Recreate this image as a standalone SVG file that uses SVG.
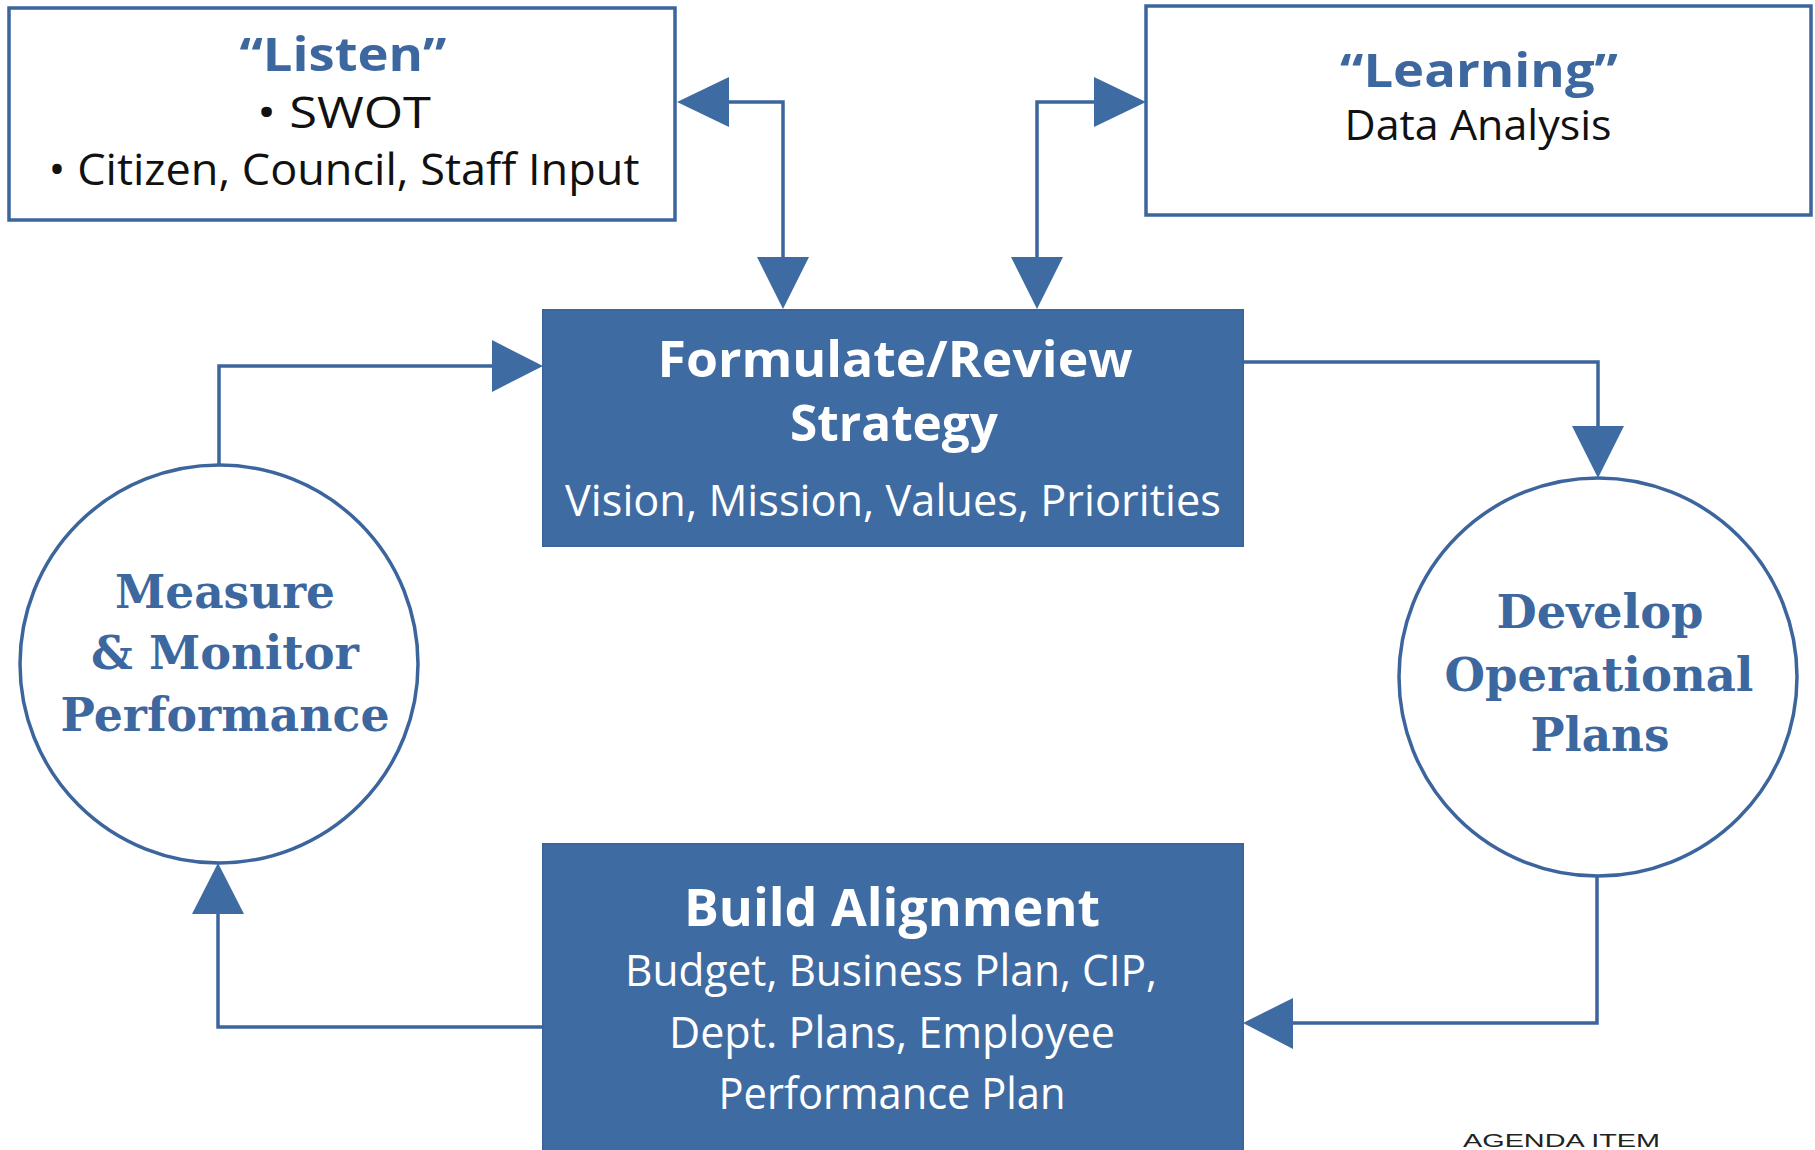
<svg xmlns="http://www.w3.org/2000/svg" width="1815" height="1150" viewBox="0 0 1815 1150">
<style>
.box{fill:#fff;stroke:#3b659c;stroke-width:3.5}
.fbox{fill:#3f6ba3;stroke:#3b659c;stroke-width:2}
.circ{fill:#fff;stroke:#3b659c;stroke-width:3.5}
.ln{fill:none;stroke:#3b659c;stroke-width:3.5}
.ah{fill:#3f6ba3}
.hd{font-family:"Open Sans","Liberation Sans",sans-serif;font-weight:bold;text-anchor:middle}
.bd{font-family:"Open Sans","Liberation Sans",sans-serif;font-weight:normal;text-anchor:middle}
.cz{font-family:"DejaVu Serif","Liberation Serif",serif;font-weight:bold;text-anchor:middle;fill:#3d679f;font-size:46px}
.blue{fill:#3d679f}
.blk{fill:#111}
.wht{fill:#fff}
</style>
<g id="connectors">
<path class="ln" d="M729,102 H783 V258"/>
<polygon class="ah" points="677,102 729,77 729,127"/>
<polygon class="ah" points="783,309 757,257 809,257"/>
<path class="ln" d="M1094,102 H1037 V258"/>
<polygon class="ah" points="1146,102 1094,77 1094,127"/>
<polygon class="ah" points="1037,309 1011,257 1063,257"/>
<path class="ln" d="M1243,362 H1598 V427"/>
<polygon class="ah" points="1598,478 1572,426 1624,426"/>
<path class="ln" d="M1597,876 V1023 H1292"/>
<polygon class="ah" points="1243,1023 1293,998 1293,1049"/>
<path class="ln" d="M543,1027 H218 V913"/>
<polygon class="ah" points="218,863 192,914 244,914"/>
<path class="ln" d="M219,465 V366 H493"/>
<polygon class="ah" points="543,366 492,340 492,392"/>
</g>
<g id="listen">
<rect class="box" x="9" y="8" width="666" height="212"/>
<text class="hd blue" x="343" y="71" font-size="46" textLength="207" lengthAdjust="spacingAndGlyphs">“Listen”</text>
<text class="bd blk" x="344" y="128" font-size="43" textLength="174" lengthAdjust="spacingAndGlyphs">• SWOT</text>
<text class="bd blk" x="344" y="185" font-size="43" textLength="591" lengthAdjust="spacingAndGlyphs">• Citizen, Council, Staff Input</text>
</g>
<g id="learning">
<rect class="box" x="1146" y="6" width="665" height="209"/>
<text class="hd blue" x="1479" y="87" font-size="46" textLength="278" lengthAdjust="spacingAndGlyphs">“Learning”</text>
<text class="bd blk" x="1478" y="140" font-size="42" textLength="267" lengthAdjust="spacingAndGlyphs">Data Analysis</text>
</g>
<g id="formulate">
<rect class="fbox" x="543" y="310" width="700" height="236"/>
<text class="hd wht" x="895" y="377" font-size="50" textLength="475" lengthAdjust="spacingAndGlyphs">Formulate/Review</text>
<text class="hd wht" x="894" y="441" font-size="50" textLength="208" lengthAdjust="spacingAndGlyphs">Strategy</text>
<text class="bd wht" x="893" y="516" font-size="43" textLength="656" lengthAdjust="spacingAndGlyphs">Vision, Mission, Values, Priorities</text>
</g>
<g id="measure">
<circle class="circ" cx="219" cy="664" r="199"/>
<text class="cz" x="225" y="608" textLength="220" lengthAdjust="spacingAndGlyphs">Measure</text>
<text class="cz" x="225" y="669" textLength="268" lengthAdjust="spacingAndGlyphs">&amp; Monitor</text>
<text class="cz" x="225" y="731" textLength="329" lengthAdjust="spacingAndGlyphs">Performance</text>
</g>
<g id="develop">
<circle class="circ" cx="1598" cy="677" r="199"/>
<text class="cz" x="1600" y="628" textLength="207" lengthAdjust="spacingAndGlyphs">Develop</text>
<text class="cz" x="1599" y="691" textLength="309" lengthAdjust="spacingAndGlyphs">Operational</text>
<text class="cz" x="1600" y="751" textLength="139" lengthAdjust="spacingAndGlyphs">Plans</text>
</g>
<g id="build">
<rect class="fbox" x="543" y="844" width="700" height="310"/>
<text class="hd wht" x="892" y="926" font-size="52" textLength="416" lengthAdjust="spacingAndGlyphs">Build Alignment</text>
<text class="bd wht" x="891" y="986" font-size="43" textLength="532" lengthAdjust="spacingAndGlyphs">Budget, Business Plan, CIP,</text>
<text class="bd wht" x="892" y="1048" font-size="43" textLength="446" lengthAdjust="spacingAndGlyphs">Dept. Plans, Employee</text>
<text class="bd wht" x="892" y="1109" font-size="43" textLength="347" lengthAdjust="spacingAndGlyphs">Performance Plan</text>
</g>
<g id="stamp">
<text x="1463" y="1147" font-family="Liberation Sans, sans-serif" font-size="19" fill="#222" textLength="197" lengthAdjust="spacingAndGlyphs">AGENDA ITEM</text>
</g>
</svg>
